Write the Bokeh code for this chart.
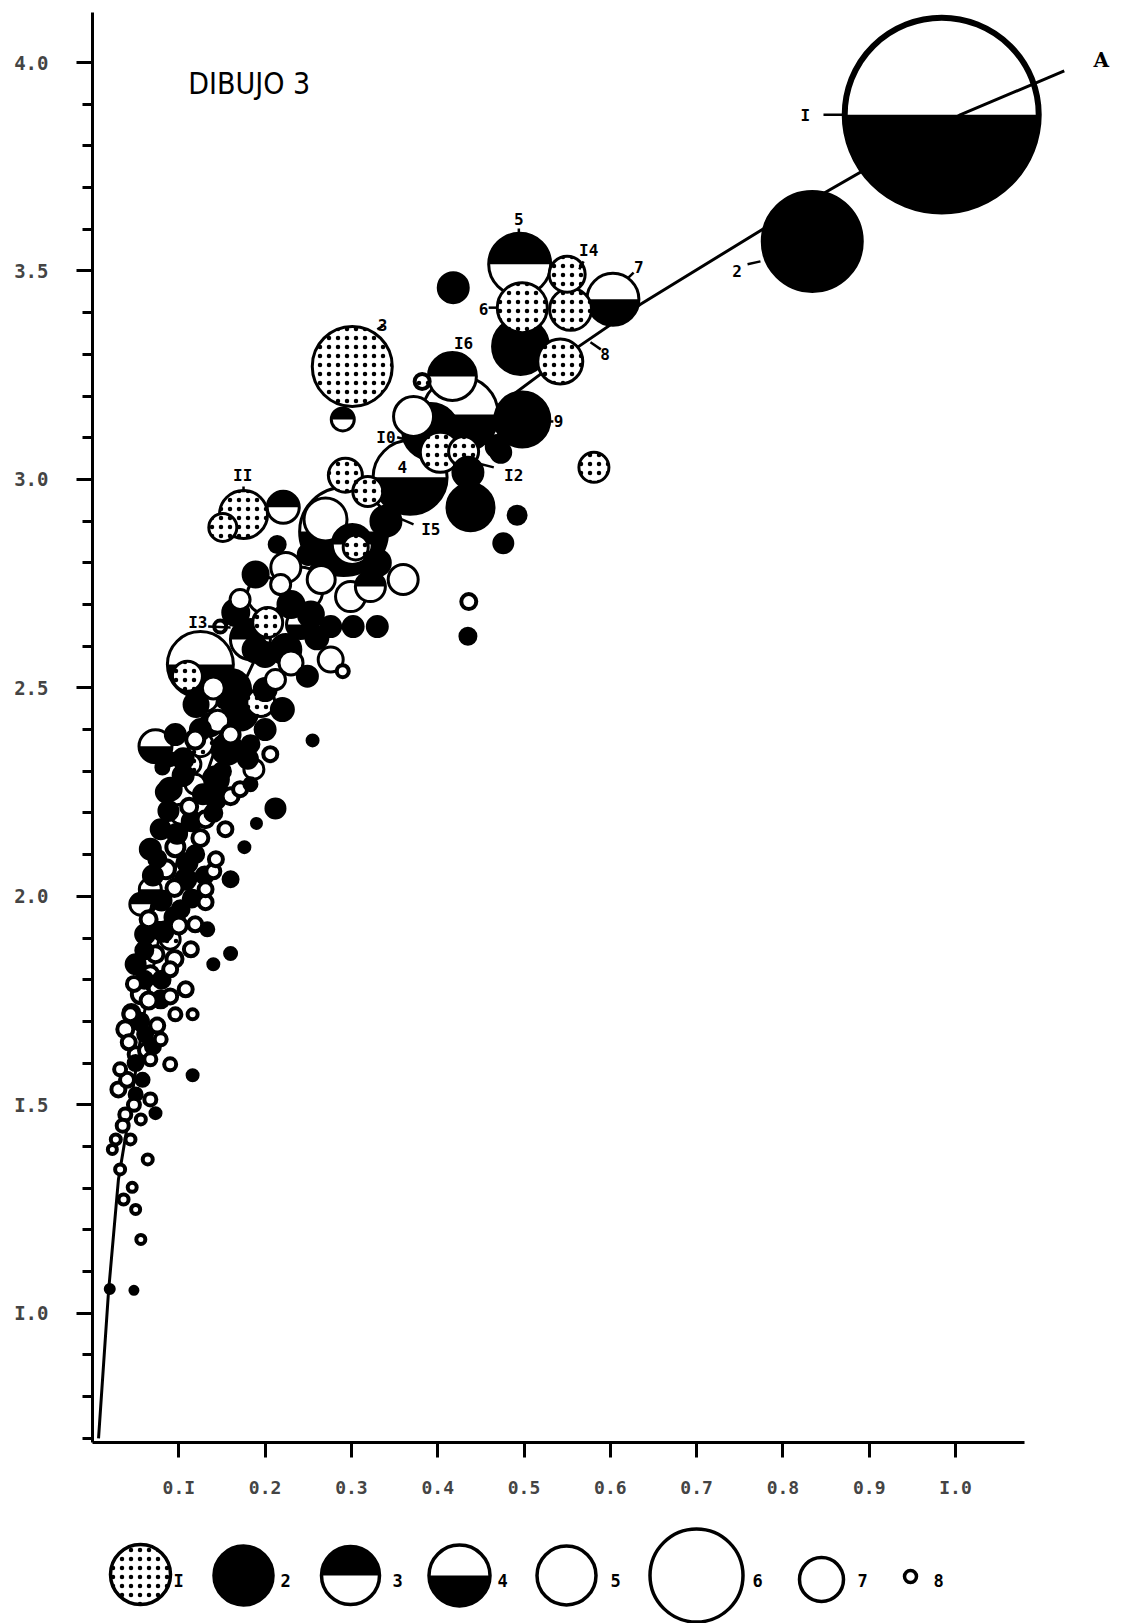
import math
from bokeh.plotting import figure
from bokeh.models import Range1d, FixedTicker, CustomJSTickFormatter
from bokeh.layouts import column
from bokeh.core.properties import value
from bokeh.embed import file_html
from bokeh.resources import INLINE

# ---------------- data ----------------
# bubble: x value, y value, weight (bubble magnitude), type (1..5)
bx = [0.984, 0.834, 0.495, 0.550, 0.603, 0.498, 0.554, 0.496, 0.542, 0.418,
      0.301, 0.290, 0.426, 0.417, 0.382, 0.498, 0.392, 0.372, 0.473, 0.403,
      0.430, 0.581, 0.293, 0.319, 0.368, 0.435, 0.469, 0.175, 0.151, 0.221,
      0.438, 0.492, 0.476, 0.214, 0.436, 0.435, 0.291, 0.270, 0.301, 0.305,
      0.241, 0.299, 0.322, 0.276, 0.302, 0.330, 0.276, 0.290, 0.253, 0.224,
      0.200, 0.166, 0.203, 0.148, 0.125, 0.183, 0.160, 0.110, 0.171, 0.195,
      0.220, 0.156, 0.125, 0.143, 0.187, 0.249, 0.224, 0.241, 0.073, 0.090,
      0.081, 0.255, 0.212, 0.190, 0.176, 0.160, 0.140, 0.131, 0.133, 0.160,
      0.140, 0.116, 0.073, 0.027, 0.064, 0.050, 0.046, 0.020, 0.048,
      0.096, 0.119, 0.137, 0.160, 0.183, 0.206, 0.114, 0.131,
      0.090, 0.119, 0.143, 0.102, 0.131, 0.079, 0.154, 0.171, 0.183,
      0.067, 0.096, 0.119, 0.143, 0.085, 0.108, 0.067, 0.131,
      0.056, 0.079, 0.102, 0.119, 0.061, 0.090, 0.114, 0.073,
      0.050, 0.067, 0.090, 0.108, 0.056, 0.079, 0.044, 0.096, 0.116,
      0.038, 0.061, 0.079, 0.050, 0.067, 0.032, 0.090,
      0.030, 0.050, 0.067, 0.038, 0.056, 0.044, 0.023,
      0.032, 0.036, 0.056,
      0.189, 0.212, 0.200, 0.189, 0.218, 0.171,
      0.105, 0.128, 0.150, 0.112, 0.088, 0.140, 0.098, 0.125, 0.075, 0.110,
      0.130, 0.095, 0.080, 0.115, 0.065, 0.100, 0.082, 0.060, 0.095, 0.080,
      0.048, 0.065, 0.090, 0.055, 0.075, 0.042, 0.062, 0.040, 0.058, 0.048,
      0.035, 0.160, 0.180, 0.200, 0.145, 0.120, 0.140, 0.230, 0.260, 0.200,
      0.230, 0.265, 0.250, 0.330, 0.340, 0.360,
      0.085, 0.115, 0.070, 0.095, 0.060, 0.045, 0.070, 0.050, 0.105, 0.125]
by = [3.875, 3.571, 3.516, 3.492, 3.432, 3.412, 3.408, 3.319, 3.283, 3.460,
      3.271, 3.144, 3.156, 3.247, 3.235, 3.144, 3.115, 3.151, 3.065, 3.065,
      3.067, 3.029, 3.010, 2.971, 3.005, 3.017, 3.079, 2.916, 2.885, 2.933,
      2.933, 2.914, 2.847, 2.844, 2.707, 2.624, 2.875, 2.904, 2.844, 2.837,
      2.736, 2.719, 2.743, 2.647, 2.647, 2.647, 2.568, 2.540, 2.676, 2.789,
      2.722, 2.681, 2.657, 2.647, 2.556, 2.616, 2.496, 2.528, 2.441, 2.465,
      2.448, 2.353, 2.365, 2.281, 2.305, 2.528, 2.592, 2.652, 2.360, 2.329,
      2.309, 2.374, 2.211, 2.175, 2.118, 2.041, 2.060, 1.986, 1.921, 1.863,
      1.837, 1.571, 1.480, 1.417, 1.369, 1.249, 1.302, 1.058, 1.055,
      2.388, 2.376, 2.412, 2.388, 2.365, 2.341, 2.317, 2.472,
      2.257, 2.269, 2.233, 2.197, 2.185, 2.161, 2.161, 2.257, 2.269,
      2.113, 2.118, 2.101, 2.089, 2.065, 2.041, 2.017, 2.017,
      1.981, 1.957, 1.969, 1.933, 1.909, 1.897, 1.873, 1.861,
      1.837, 1.813, 1.825, 1.777, 1.765, 1.753, 1.717, 1.717, 1.717,
      1.681, 1.669, 1.657, 1.621, 1.609, 1.585, 1.597,
      1.537, 1.525, 1.513, 1.477, 1.465, 1.417, 1.393,
      1.345, 1.273, 1.177,
      2.592, 2.520, 2.496, 2.772, 2.748, 2.712,
      2.290, 2.245, 2.300, 2.215, 2.205, 2.200, 2.150, 2.140, 2.090, 2.080,
      2.050, 2.020, 1.990, 1.995, 1.945, 1.930, 1.915, 1.870, 1.850, 1.800,
      1.790, 1.750, 1.760, 1.700, 1.690, 1.650, 1.630, 1.560, 1.560, 1.500,
      1.450, 2.240, 2.330, 2.400, 2.420, 2.460, 2.500, 2.560, 2.620, 2.580,
      2.700, 2.760, 2.820, 2.800, 2.900, 2.760,
      2.250, 2.180, 2.050, 1.950, 1.800, 1.720, 1.640, 1.600, 2.330, 2.400]
peso = [19.4, 10.0, 6.2, 3.6, 5.2, 5.0, 4.2, 5.6, 4.5, 3.0,
        8.0, 2.3, 7.6, 4.8, 1.5, 5.5, 5.6, 4.0, 2.0, 4.0,
        3.0, 3.0, 3.4, 3.0, 7.4, 3.0, 2.2, 4.8, 2.8, 3.2,
        4.7, 1.7, 1.8, 1.5, 1.5, 1.5, 8.8, 4.3, 4.0, 2.5,
        4.5, 3.0, 3.0, 2.0, 2.0, 2.0, 2.5, 1.2, 2.5, 3.0,
        3.6, 2.6, 3.0, 1.2, 6.6, 4.0, 4.0, 3.0, 3.5, 2.8,
        2.2, 3.0, 2.5, 2.5, 2.0, 2.0, 3.0, 2.8, 3.3, 1.2,
        1.2, 1.0, 1.8, 0.9, 1.0, 1.4, 1.4, 1.4, 1.2, 1.1,
        1.0, 1.0, 1.0, 1.0, 1.0, 0.9, 0.9, 0.8, 0.7,
        2.0, 1.8, 2.2, 1.8, 1.6, 1.4, 2.0, 2.4,
        2.2, 2.0, 1.8, 2.0, 1.6, 1.8, 1.4, 1.4, 1.2,
        2.0, 1.8, 1.6, 1.4, 1.8, 2.0, 2.2, 1.4,
        2.2, 1.8, 1.6, 1.4, 1.8, 2.0, 1.4, 1.6,
        1.8, 1.6, 1.4, 1.4, 1.8, 1.6, 1.4, 1.2, 1.0,
        1.6, 1.4, 1.2, 1.4, 1.2, 1.2, 1.2,
        1.4, 1.2, 1.2, 1.2, 1.0, 1.0, 0.9,
        1.0, 1.0, 0.9,
        2.5, 2.0, 2.2, 2.5, 2.0, 2.0,
        2.0, 1.8, 1.6, 1.6, 1.8, 1.6, 1.8, 1.6, 1.6, 1.8,
        1.6, 1.6, 1.8, 1.6, 1.6, 1.6, 1.8, 1.6, 1.6, 1.6,
        1.4, 1.6, 1.4, 1.6, 1.4, 1.4, 1.4, 1.4, 1.2, 1.2,
        1.2, 1.6, 1.8, 2.0, 2.2, 2.4, 2.2, 2.4, 2.2, 2.4,
        2.6, 2.8, 2.0, 2.6, 3.0, 3.0,
        1.8, 1.8, 1.8, 1.8, 1.6, 1.6, 1.4, 1.4, 2.0, 2.0]
tipo = [4, 2, 3, 1, 4, 1, 1, 2, 1, 2,
        1, 3, 4, 3, 1, 2, 2, 5, 2, 1,
        1, 1, 1, 1, 4, 2, 2, 1, 1, 3,
        2, 2, 2, 2, 5, 2, 4, 5, 3, 1,
        5, 5, 3, 2, 2, 2, 5, 5, 2, 5,
        5, 2, 1, 5, 4, 3, 2, 1, 2, 1,
        2, 2, 1, 2, 5, 2, 2, 4, 4, 2,
        2, 2, 2, 2, 2, 2, 5, 5, 2, 2,
        2, 2, 2, 5, 5, 5, 5, 2, 2,
        2, 5, 2, 5, 2, 5, 1, 3,
        2, 5, 2, 1, 5, 2, 5, 5, 2,
        2, 5, 2, 5, 5, 2, 4, 5,
        3, 5, 2, 5, 2, 1, 5, 5,
        2, 5, 5, 5, 5, 2, 5, 5, 5,
        5, 2, 5, 5, 5, 5, 5,
        5, 2, 5, 5, 5, 5, 5,
        5, 5, 5,
        2, 5, 2, 2, 5, 5,
        2, 2, 2, 5, 2, 2, 2, 5, 2, 2,
        2, 5, 2, 2, 5, 5, 2, 2, 5, 2,
        5, 5, 5, 2, 5, 5, 5, 5, 2, 5,
        5, 5, 2, 2, 5, 2, 5, 5, 2, 2,
        2, 5, 2, 2, 2, 5,
        2, 2, 2, 2, 2, 2, 2, 2, 2, 2]

# fitted curve "A"
line_x = [0.007, 0.0185, 0.030, 0.042, 0.060, 0.080, 0.100, 0.150, 0.200, 0.250,
          0.300, 0.350, 0.400, 0.469, 0.550, 0.635, 0.800, 1.006, 1.126]
line_y = [0.70, 1.05, 1.32, 1.47, 1.72, 1.93, 2.10, 2.40, 2.62, 2.78,
          2.91, 3.01, 3.09, 3.175, 3.30, 3.42, 3.63, 3.875, 3.98]

# numbered labels of individual bubbles
lab_text = ["I", "2", "5", "I4", "7", "6", "8", "3", "I6", "9", "I0", "I2", "4", "II", "I5", "I3"]
lab_x = [0.826, 0.747, 0.494, 0.575, 0.633, 0.453, 0.594, 0.336, 0.430, 0.540, 0.340, 0.488, 0.359, 0.174, 0.392, 0.122]
lab_y = [3.873, 3.500, 3.625, 3.550, 3.510, 3.410, 3.300, 3.370, 3.325, 3.140, 3.100, 3.010, 3.030, 3.010, 2.880, 2.657]
# leader strokes
ld_x0 = [0.847, 0.759, 0.459, 0.621, 0.569, 0.577, 0.330, 0.527, 0.353, 0.438, 0.345, 0.134, 0.175, 0.494, 0.430]
ld_x1 = [0.874, 0.774, 0.469, 0.627, 0.564, 0.589, 0.337, 0.534, 0.363, 0.465, 0.372, 0.160, 0.175, 0.494, 0.430]
ld_y0 = [3.875, 3.516, 3.412, 3.484, 3.523, 3.329, 3.360, 3.139, 3.101, 3.043, 2.916, 2.647, 2.983, 3.602, 3.300]
ld_y1 = [3.875, 3.523, 3.412, 3.496, 3.504, 3.312, 3.369, 3.139, 3.096, 3.029, 2.892, 2.645, 2.969, 3.587, 3.285]

# axes
x_ticks = [0.1, 0.2, 0.3, 0.4, 0.5, 0.6, 0.7, 0.8, 0.9, 1.0]
x_labels = ["0.I", "0.2", "0.3", "0.4", "0.5", "0.6", "0.7", "0.8", "0.9", "I.0"]
y_ticks = [1.0, 1.5, 2.0, 2.5, 3.0, 3.5, 4.0]
y_labels = ["I.0", "I.5", "2.0", "2.5", "3.0", "3.5", "4.0"]
y_minor = [round(0.7 + 0.1 * i, 1) for i in range(34)]

# legend
leg_labels = ["I", "2", "3", "4", "5", "6", "7", "8"]
leg_tipo = [1, 2, 3, 4, 5, 5, 5, 5]
leg_diam = [60, 59, 58, 61, 59, 93, 44, 12]
leg_cx = [140, 243, 350, 459, 566, 696, 821, 910]
leg_cy = [1574, 1575, 1575, 1575, 1575, 1575, 1579, 1576]
leg_tx = [178, 285, 397, 502, 615, 757, 862, 938]

MONO = "DejaVu Sans Mono"


def bubble(fig, x, y, d, t, lw):
    if t == 1:
        fig.scatter([x], [y], size=d, marker="circle", fill_color="white",
                    line_color="black", line_width=lw, hatch_pattern=".",
                    hatch_color="black", hatch_scale=9, hatch_weight=2.6)
    elif t == 2:
        fig.scatter([x], [y], size=d, marker="circle", fill_color="black",
                    line_color="black", line_width=lw)
    elif t in (3, 4):
        fig.scatter([x], [y], size=d, marker="circle", fill_color="white",
                    line_color=None)
        a0, a1 = (0.0, math.pi) if t == 3 else (math.pi, 2 * math.pi)
        fig.wedge([x], [y], radius=d / 2.0, radius_units="screen",
                  start_angle=a0, end_angle=a1, fill_color="black", line_color=None)
        fig.scatter([x], [y], size=d, marker="circle", fill_color=None,
                    line_color="black", line_width=lw)
    else:
        fig.scatter([x], [y], size=d, marker="circle", fill_color="white",
                    line_color="black", line_width=lw)


# ---------------- main chart ----------------
p = figure(width=1128, height=1500, x_range=Range1d(0, 1.19), y_range=Range1d(0.69, 4.12),
           output_backend="svg", toolbar_location=None,
           min_border_left=92, min_border_right=9, min_border_top=12, min_border_bottom=57)
p.outline_line_color = None
p.xgrid.visible = False
p.ygrid.visible = False
p.background_fill_color = "white"

order = sorted(range(len(bx)), key=lambda i: -peso[i])
# the largest bubble first, then the fitted curve, then all others on top
first = order[0]
bubble(p, bx[first], by[first], peso[first] * 10.0, tipo[first], 6)
p.line(line_x, line_y, line_color="black", line_width=3)
for i in order[1:]:
    d = peso[i] * 10.0
    lw = 4 if peso[i] < 2.0 else 3
    bubble(p, bx[i], by[i], d, tipo[i], lw)

p.segment(x0=ld_x0, y0=ld_y0, x1=ld_x1, y1=ld_y1, line_color="black", line_width=2.5)
p.text(x=lab_x, y=lab_y, text=lab_text, text_font=value(MONO), text_font_style="bold",
       text_font_size="16px", text_align="center", text_baseline="middle", text_color="black")
p.text(x=[1.169], y=[4.007], text=["A"], text_font=value("DejaVu Serif"), text_font_style="bold",
       text_font_size="20px", text_align="center", text_baseline="middle")
p.text(x=[0.111], y=[3.950], text=["DIBUJO 3"], text_font=value("DejaVu Sans Condensed"),
       text_font_size="30px", text_align="left", text_baseline="middle")

xa = p.xaxis[0]
xa.ticker = FixedTicker(ticks=x_ticks, minor_ticks=[])
xa.formatter = CustomJSTickFormatter(args=dict(t=x_ticks, l=x_labels), code="""
const i = t.findIndex(v => Math.abs(v - tick) < 1e-6); return i >= 0 ? l[i] : '';""")
xa.bounds = (0, 1.08)
xa.axis_line_width = 3
xa.major_tick_line_width = 3
xa.major_tick_out = 15
xa.major_tick_in = 0
xa.minor_tick_line_color = None
xa.major_label_standoff = 19
xa.major_label_text_font = MONO
xa.major_label_text_font_style = "bold"
xa.major_label_text_font_size = "18px"

ya = p.yaxis[0]
ya.ticker = FixedTicker(ticks=y_ticks, minor_ticks=y_minor)
ya.formatter = CustomJSTickFormatter(args=dict(t=y_ticks, l=y_labels), code="""
const i = t.findIndex(v => Math.abs(v - tick) < 1e-6); return i >= 0 ? l[i] : '';""")
ya.axis_line_width = 3
ya.major_tick_line_width = 3
ya.major_tick_out = 16
ya.major_tick_in = 0
ya.minor_tick_line_width = 3
ya.minor_tick_out = 10
ya.minor_tick_in = 0
ya.major_label_standoff = 28
ya.major_label_text_font = MONO
ya.major_label_text_font_style = "bold"
ya.major_label_text_font_size = "19px"

# ---------------- legend strip ----------------
# the column aligns this strip's frame with the main frame (page x 92..1119)
lg = figure(width=1128, height=123, x_range=Range1d(92, 1119), y_range=Range1d(1623, 1500),
            output_backend="svg", toolbar_location=None,
            x_axis_location=None, y_axis_location=None,
            min_border_left=92, min_border_right=9, min_border_top=0, min_border_bottom=0)
lg.xgrid.visible = False
lg.ygrid.visible = False
lg.outline_line_color = None
for k in range(len(leg_labels)):
    bubble(lg, leg_cx[k], leg_cy[k], leg_diam[k], leg_tipo[k], 3.5)
lg.text(x=leg_tx, y=[1580] * len(leg_tx), text=leg_labels, text_font=value(MONO),
        text_font_style="bold", text_font_size="17px", text_align="center", text_baseline="middle")

layout = column(p, lg, spacing=0)
open("out.html", "w").write(file_html(layout, INLINE))
